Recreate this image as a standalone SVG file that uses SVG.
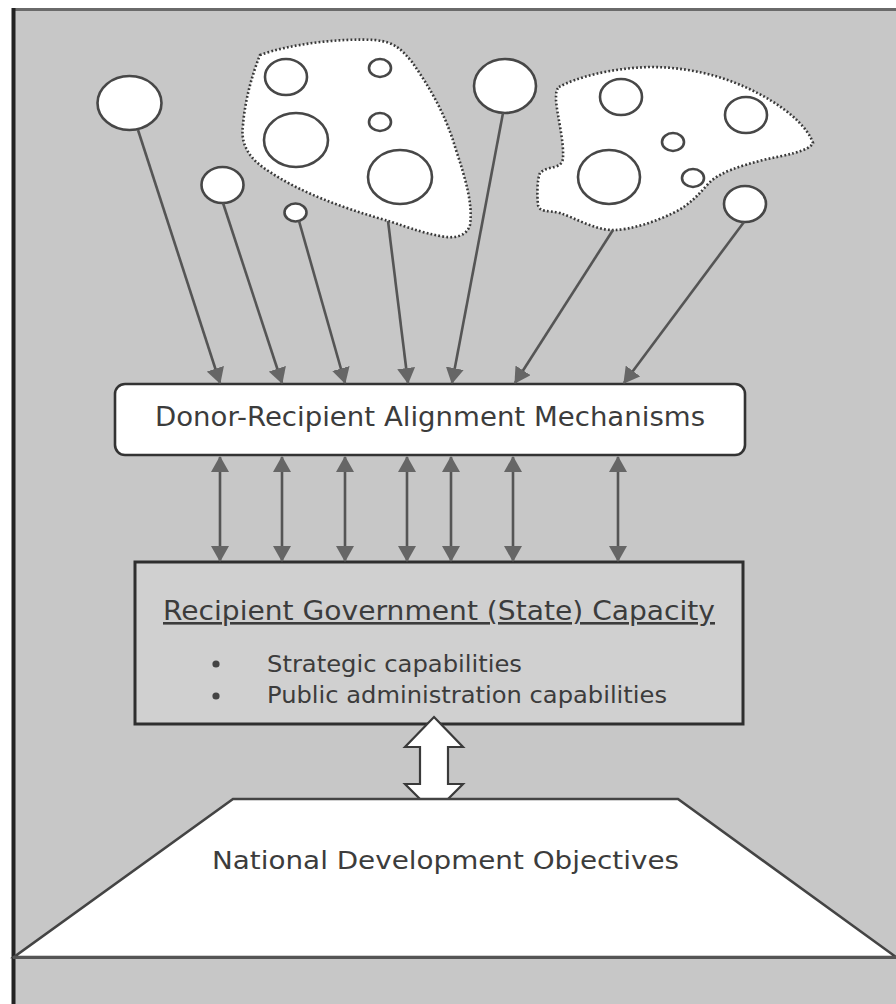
<svg xmlns="http://www.w3.org/2000/svg" width="896" height="1004" viewBox="0 0 896 1004">
<style>
.circ{fill:#ffffff;stroke:#474747;stroke-width:2.6}
.blob{fill:#ffffff;stroke:#383838;stroke-width:2.6;stroke-dasharray:1.8 2.2}
.con{stroke:#555555;stroke-width:2.6;fill:none}
.txt{font-family:"DejaVu Sans","Liberation Sans",sans-serif;fill:#3c3c3c}
</style>
<defs>
<marker id="ah" viewBox="0 0 16 18" refX="15" refY="9" markerWidth="16" markerHeight="18" markerUnits="userSpaceOnUse" orient="auto-start-reverse">
<path d="M0,0 L16,9 L0,18 Z" fill="#666666"/>
</marker>
</defs>
<rect x="0" y="0" width="896" height="1004" fill="#ffffff"/>
<rect id="background" x="13" y="9" width="883" height="995" fill="#c7c7c7"/>
<line x1="13" y1="9.5" x2="896" y2="9.5" stroke="#6a6a6a" stroke-width="3"/>
<line x1="13.5" y1="8" x2="13.5" y2="1004" stroke="#222222" stroke-width="4"/>

<g id="donor-blob-1">
<path class="blob" d="M260,55 C290,44 340,38 375,40 C395,42 402,50 412,62 C428,85 445,112 456,150 C466,180 473,205 470,225 C467,236 455,238 446,237 C420,233 400,224 385,220 C340,207 300,192 270,172 C250,160 240,145 243,125 C245,100 252,75 260,55 Z"/>
<ellipse class="circ" cx="286" cy="77" rx="21" ry="18"/>
<ellipse class="circ" cx="380" cy="68" rx="11" ry="9"/>
<ellipse class="circ" cx="296" cy="140" rx="32" ry="27"/>
<ellipse class="circ" cx="380" cy="122" rx="11" ry="9"/>
<ellipse class="circ" cx="400" cy="177" rx="32" ry="27"/>
</g>
<g id="donor-blob-2">
<path class="blob" d="M559,87 C575,78 610,68 650,67 C700,67 740,82 770,100 C790,112 808,128 813,143 C808,152 785,155 763,160 C740,166 720,172 709,183 C698,195 690,205 673,213 C655,222 630,230 613,230 C595,230 575,218 560,213 C548,210 540,213 538,205 C537,195 537,180 540,173 C548,165 562,170 563,158 C564,140 557,115 556,100 C556,93 556,90 559,87 Z"/>
<ellipse class="circ" cx="621" cy="97" rx="21" ry="18"/>
<ellipse class="circ" cx="746" cy="115" rx="21" ry="18"/>
<ellipse class="circ" cx="673" cy="142" rx="11" ry="9"/>
<ellipse class="circ" cx="609" cy="177" rx="31" ry="27"/>
<ellipse class="circ" cx="693" cy="178" rx="11" ry="9"/>
</g>
<g id="donor-1"><ellipse class="circ" cx="129.5" cy="103" rx="32" ry="27"/></g>
<g id="donor-2"><ellipse class="circ" cx="222.5" cy="185" rx="21" ry="18"/></g>
<g id="donor-3"><ellipse class="circ" cx="295.5" cy="212.5" rx="11" ry="9"/></g>
<g id="donor-4"><ellipse class="circ" cx="505" cy="86" rx="31" ry="27"/></g>
<g id="donor-5"><ellipse class="circ" cx="745" cy="204" rx="21" ry="18"/></g>

<g id="alignment">
<rect x="115" y="384" width="630" height="71" rx="10" ry="10" fill="#ffffff" stroke="#333333" stroke-width="2.6"/>
<text class="txt" x="155" y="426" font-size="26" textLength="550" lengthAdjust="spacingAndGlyphs">Donor-Recipient Alignment Mechanisms</text>
</g>

<g id="state-capacity">
<rect x="135" y="562" width="608" height="162" fill="#d0d0d0" stroke="#2e2e2e" stroke-width="3"/>
<text class="txt" x="163" y="620" font-size="26" textLength="552" lengthAdjust="spacingAndGlyphs" text-decoration="underline">Recipient Government (State) Capacity</text>
<circle cx="216" cy="664" r="3.6" fill="#444444"/>
<circle cx="216" cy="696" r="3.6" fill="#444444"/>
<text class="txt" x="267" y="672" font-size="23" textLength="255" lengthAdjust="spacingAndGlyphs">Strategic capabilities</text>
<text class="txt" x="267" y="703" font-size="23" textLength="400" lengthAdjust="spacingAndGlyphs">Public administration capabilities</text>
</g>

<g id="connectors">
<line class="con" x1="138" y1="130" x2="220" y2="383" marker-end="url(#ah)"/>
<line class="con" x1="223" y1="203" x2="282" y2="383" marker-end="url(#ah)"/>
<line class="con" x1="299" y1="221" x2="345" y2="383" marker-end="url(#ah)"/>
<line class="con" x1="388" y1="221" x2="408" y2="383" marker-end="url(#ah)"/>
<line class="con" x1="503" y1="113" x2="452" y2="383" marker-end="url(#ah)"/>
<line class="con" x1="613" y1="230" x2="515" y2="383" marker-end="url(#ah)"/>
<line class="con" x1="744" y1="222" x2="624" y2="383" marker-end="url(#ah)"/>
<line class="con" x1="220" y1="457" x2="220" y2="561" marker-start="url(#ah)" marker-end="url(#ah)"/>
<line class="con" x1="282" y1="457" x2="282" y2="561" marker-start="url(#ah)" marker-end="url(#ah)"/>
<line class="con" x1="345" y1="457" x2="345" y2="561" marker-start="url(#ah)" marker-end="url(#ah)"/>
<line class="con" x1="407" y1="457" x2="407" y2="561" marker-start="url(#ah)" marker-end="url(#ah)"/>
<line class="con" x1="451" y1="457" x2="451" y2="561" marker-start="url(#ah)" marker-end="url(#ah)"/>
<line class="con" x1="513" y1="457" x2="513" y2="561" marker-start="url(#ah)" marker-end="url(#ah)"/>
<line class="con" x1="618" y1="457" x2="618" y2="561" marker-start="url(#ah)" marker-end="url(#ah)"/>
<path d="M434,717 L463,747 L448,747 L448,784 L463,784 L434,813 L405,784 L420,784 L420,747 L405,747 Z" fill="#ffffff" stroke="#3a3a3a" stroke-width="2.2" stroke-linejoin="miter"/>
</g>

<g id="national-objectives">
<polygon points="233,799 678,799 896,957 14,957" fill="#ffffff" stroke="#444444" stroke-width="2.6"/>
<line x1="13" y1="957.5" x2="896" y2="957.5" stroke="#555555" stroke-width="3"/>
<text class="txt" x="212" y="869" font-size="25" textLength="467" lengthAdjust="spacingAndGlyphs">National Development Objectives</text>
</g>
</svg>
